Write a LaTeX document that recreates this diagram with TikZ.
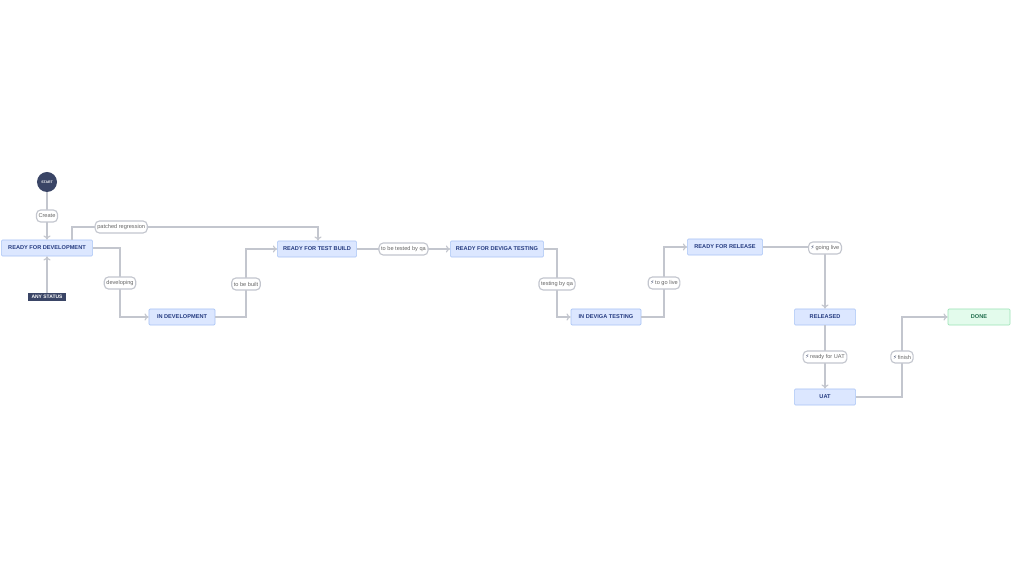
\documentclass[tikz,border=0pt]{standalone}
\usepackage{fontspec}
\setmainfont{Liberation Sans}
\newfontfamily\symfont{DejaVu Sans}
\usepackage[]{xcolor}
\usetikzlibrary{positioning,arrows.meta}
\definecolor{boxfill}{HTML}{DCE7FF}
\definecolor{boxline}{HTML}{A9C4F5}
\definecolor{boxtext}{HTML}{253B80}
\definecolor{darknode}{HTML}{3A4566}
\definecolor{edgeline}{HTML}{C3C6CE}
\definecolor{donefill}{HTML}{E3FBEC}
\definecolor{doneline}{HTML}{9BE3B6}
\definecolor{donetext}{HTML}{216E4E}
\newcommand{\bolt}{{\symfont\color{darknode}\char"26A1}\,}
\begin{document}
\begin{tikzpicture}[
            x=0.025cm, y=-0.025cm,
            font=\fontsize{4}{5}\selectfont,
            status/.style={rectangle, draw=boxline, fill=boxfill, rounded corners=0.8pt, minimum height=0.4cm, text=boxtext, font=\fontsize{4}{5}\selectfont\bfseries, inner sep=1pt},
            final/.style={status, draw=doneline, fill=donefill, text=donetext},
            trans/.style={rectangle, draw=edgeline, fill=white, rounded corners=3pt, text=black!60, inner sep=1.5pt, minimum height=0.3cm},
            arrow/.style={->, >={To[length=3pt,width=5pt]}, edgeline, thick}
        ]
            \fill[white] (0,0) rectangle (1024,576);
            \node[circle, fill=darknode, minimum size=0.5cm, inner sep=0pt, text=white, font=\fontsize{2.5}{3}\selectfont\bfseries] (start) at (47,182) {START};
            \node[status, minimum width=2.28cm] (rfd) at (47,248) {READY FOR DEVELOPMENT};
            \node[rectangle, fill=darknode, text=white, font=\fontsize{3.5}{4}\selectfont\bfseries, minimum width=0.95cm, minimum height=0.2cm, inner sep=0.5pt] (any) at (47,297) {ANY STATUS};
            \node[status, minimum width=1.65cm] (indev) at (182,317) {IN DEVELOPMENT};
            \node[status, minimum width=1.98cm] (rtb) at (317,249) {READY FOR TEST BUILD};
            \node[status, minimum width=2.33cm] (rdt) at (497,249) {READY FOR DEVIGA TESTING};
            \node[status, minimum width=1.75cm] (idt) at (606,317) {IN DEVIGA TESTING};
            \node[status, minimum width=1.88cm] (rfr) at (725,247) {READY FOR RELEASE};
            \node[status, minimum width=1.53cm] (rel) at (825,317) {RELEASED};
            \node[status, minimum width=1.53cm] (uat) at (825,397) {UAT};
            \node[final, minimum width=1.55cm] (done) at (979,317) {DONE};

            \draw[arrow] (start) -- node[trans] {Create} (rfd);
            \draw[arrow] (any) -- (rfd);
            \draw[arrow] (rfd.north -| 72,0) |- node[trans, pos=0.6] {patched regression} (318,227) -- (rtb.north -| 318,0);
            \draw[arrow] (rfd.east) -| (120,283) node[trans] {developing} |- (indev.west);
            \draw[arrow] (indev.east) -| (246,284) node[trans] {to be built} |- (rtb.west);
            \draw[arrow] (rtb) -- node[trans] {to be tested by qa} (rdt);
            \draw[arrow] (rdt.east) -| (557,284) node[trans] {testing by qa} |- (idt.west);
            \draw[arrow] (idt.east) -| (664,283) node[trans] {\bolt to go live} |- (rfr.west);
            \draw[arrow] (rfr.east) -| (825,248) node[trans] {\bolt going live} -- (rel.north);
            \draw[arrow] (rel) -- node[trans] {\bolt ready for UAT} (uat);
            \draw[arrow] (uat.east) -| (902,357) node[trans] {\bolt finish} |- (done.west);
        \end{tikzpicture}
\end{document}
